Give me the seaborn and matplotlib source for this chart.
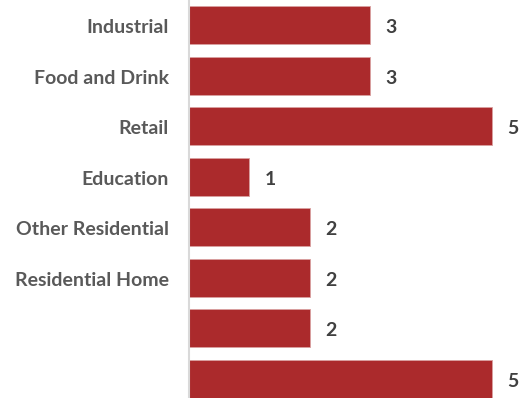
import matplotlib
matplotlib.use("Agg")
import matplotlib.pyplot as plt
import matplotlib.transforms as mtrans
import seaborn as sns
import pandas as pd

categories = ["Industrial", "Food and Drink", "Retail", "Education",
              "Other Residential", "Residential Home", "Unlabelled A", "Unlabelled B"]
tick_labels = ["Industrial", "Food and Drink", "Retail", "Education",
               "Other Residential", "Residential Home", "", ""]
values = [3, 3, 5, 1, 2, 2, 2, 5]

df = pd.DataFrame({"category": categories, "value": values})

sns.set_style("white")
plt.rcParams["font.family"] = ["Lato", "DejaVu Sans"]

W, H = 525, 398
fig = plt.figure(figsize=(W / 100, H / 100), dpi=100)
x0 = 188.5
ax = fig.add_axes([x0 / W, 0, 1 - x0 / W, 1])

sns.barplot(data=df, x="value", y="category", order=categories,
            color="#AB2A2C", saturation=1, width=0.75, ax=ax,
            edgecolor="#D9A0A0", linewidth=0.6)

ppu = 60.6
ax.set_xlim(0, (W - x0) / ppu)
pitch = (379 - 25) / 7
ax.set_ylim(7 + (H - 379) / pitch, -25 / pitch)

shift = mtrans.ScaledTranslation(0, -2.5 / 100, fig.dpi_scale_trans)

ax.set_yticks(range(len(categories)))
ax.set_yticklabels(tick_labels, fontsize=14, fontweight="bold", color="#595959")
ax.tick_params(axis="y", length=0, pad=14)
for lbl in ax.get_yticklabels():
    lbl.set_va("center")
    lbl.set_transform(lbl.get_transform() + shift)
ax.set_xticks([])
ax.set_xlabel("")
ax.set_ylabel("")

for s in ["top", "right", "bottom"]:
    ax.spines[s].set_visible(False)
ax.spines["left"].set_color("#D9D9D9")
ax.spines["left"].set_linewidth(1.5)

for cont in ax.containers:
    texts = ax.bar_label(cont, labels=[str(v) for v in values], padding=11,
                         fontsize=14, fontweight="bold", color="#404040")
    for t in texts:
        t.set_va("center")
        t.xyann = (11, -1.8)

fig.savefig("out.png", dpi=100)
